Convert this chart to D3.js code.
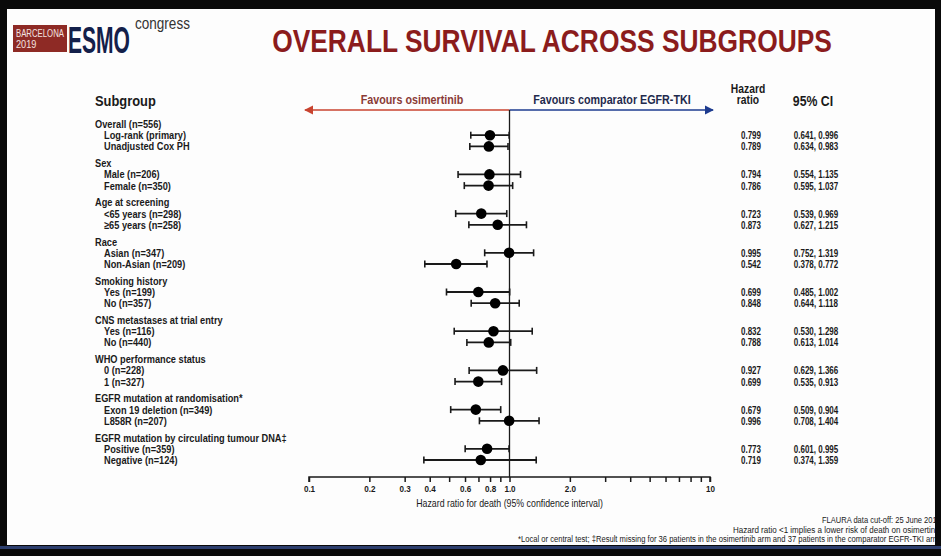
<!DOCTYPE html>
<html>
<head>
<meta charset="utf-8">
<script src="https://cdn.jsdelivr.net/npm/d3@7"></script>
<style>
  body { margin: 0; background: #000; }
  svg text { font-family: "Liberation Sans", Arial, sans-serif; }
</style>
</head>
<body>
<div id="chart"></div>
<script>
// subgroup headers and rows
const groups = ["Overall (n=556)", "Sex", "Age at screening", "Race", "Smoking history",
  "CNS metastases at trial entry", "WHO performance status", "EGFR mutation at randomisation*",
  "EGFR mutation by circulating tumour DNA\u2021"];
const rowLabels = [
  ["Log-rank (primary)", "Unadjusted Cox PH"],
  ["Male (n=206)", "Female (n=350)"],
  ["<65 years (n=298)", "\u226565 years (n=258)"],
  ["Asian (n=347)", "Non-Asian (n=209)"],
  ["Yes (n=199)", "No (n=357)"],
  ["Yes (n=116)", "No (n=440)"],
  ["0 (n=228)", "1 (n=327)"],
  ["Exon 19 deletion (n=349)", "L858R (n=207)"],
  ["Positive (n=359)", "Negative (n=124)"]
];
const hr = [[0.799, 0.789], [0.794, 0.786], [0.723, 0.873], [0.995, 0.542], [0.699, 0.848],
  [0.832, 0.788], [0.927, 0.699], [0.679, 0.996], [0.773, 0.719]];
const ciLow = [[0.641, 0.634], [0.554, 0.595], [0.539, 0.627], [0.752, 0.378], [0.485, 0.644],
  [0.530, 0.613], [0.629, 0.535], [0.509, 0.708], [0.601, 0.374]];
const ciHigh = [[0.996, 0.983], [1.135, 1.037], [0.969, 1.215], [1.319, 0.772], [1.002, 1.118],
  [1.298, 1.014], [1.366, 0.913], [0.904, 1.404], [0.995, 1.359]];
const tickVals = [0.1, 0.2, 0.3, 0.4, 0.5, 0.6, 0.7, 0.8, 0.9, 1, 2, 3, 4, 5, 6, 7, 8, 9, 10];
const tickLabels = {0.1: "0.1", 0.2: "0.2", 0.3: "0.3", 0.4: "0.4", 0.6: "0.6", 0.8: "0.8", 1: "1.0", 2: "2.0", 10: "10"};
const footnotes = ["FLAURA data cut-off: 25 June 2018",
  "Hazard ratio <1 implies a lower risk of death on osimertinib",
  "*Local or central test; \u2021Result missing for 36 patients in the osimertinib arm and 37 patients in the comparator EGFR-TKI arm"];

const W = 941, H = 556;
const ink = "#1a1a1a";
const svg = d3.select("#chart").append("svg").attr("width", W).attr("height", H);

// condensed text helper (no narrow font installed, so squeeze horizontally)
function txt(x, y, s, size, o = {}) {
  const t = svg.append("text")
    .attr("text-anchor", o.anchor || "start")
    .attr("font-size", size)
    .attr("font-weight", o.weight || "bold")
    .attr("fill", o.fill || ink)
    .text(s);
  let sx = o.sx || 0.82;
  if (o.width) sx = o.width / t.node().getComputedTextLength();
  t.attr("transform", `translate(${x},${y}) scale(${sx},1)`);
  return t;
}

// slide background
svg.append("rect").attr("x", 0).attr("y", 0).attr("width", W).attr("height", H).attr("fill", "#0a0a0a");
svg.append("rect").attr("x", 7).attr("y", 9).attr("width", 928).attr("height", 536).attr("fill", "#fdfdfd");

// logo
svg.append("rect").attr("x", 13).attr("y", 25).attr("width", 54).attr("height", 27).attr("fill", "#8e2a25");
txt(16, 37, "BARCELONA", 10.5, {weight: "normal", fill: "#f3e3e0", width: 48});
txt(16, 48, "2019", 11.5, {weight: "normal", fill: "#f3e3e0", sx: 0.8});
txt(68, 53, "ESMO", 37, {fill: "#13204a", width: 62});
txt(135, 29, "congress", 16, {weight: "normal", fill: "#333", width: 55});

// title
txt(552, 52, "OVERALL SURVIVAL ACROSS SUBGROUPS", 32, {anchor: "middle", fill: "#8b1c1c", width: 560});

const x = d3.scaleLog().domain([0.1, 10]).range([309, 710]);
// vertical positions in line units: 3.5 units per group
const y = d3.scaleLinear().domain([0, 1]).range([124, 135.2]);
const rowY = (g, r) => y(g * 3.5 + 1 + r);

// column headers
txt(95, 106, "Subgroup", 15, {sx: 0.86});
txt(748, 93, "Hazard", 12, {anchor: "middle", sx: 0.86});
txt(748, 104, "ratio", 12, {anchor: "middle", sx: 0.86});
txt(813, 106, "95% CI", 15, {anchor: "middle", sx: 0.82});

// favours arrow
const defs = svg.append("defs");
[["arrL", "#c8432f"], ["arrR", "#1d3b8f"]].forEach(([id, c]) => {
  defs.append("marker").attr("id", id).attr("viewBox", "0 0 10 10").attr("refX", 9).attr("refY", 5)
    .attr("markerWidth", 7).attr("markerHeight", 7).attr("orient", "auto-start-reverse")
    .append("path").attr("d", "M0,0 L10,5 L0,10 z").attr("fill", c);
});
const arrowY = 110;
svg.append("line").attr("x1", x(1)).attr("x2", 305).attr("y1", arrowY).attr("y2", arrowY)
  .attr("stroke", "#c8432f").attr("stroke-width", 1.3).attr("marker-end", "url(#arrL)");
svg.append("line").attr("x1", x(1)).attr("x2", 713).attr("y1", arrowY).attr("y2", arrowY)
  .attr("stroke", "#1d3b8f").attr("stroke-width", 1.3).attr("marker-end", "url(#arrR)");
txt(412, 104, "Favours osimertinib", 12.5, {anchor: "middle", fill: "#8a3b36", sx: 0.86});
txt(612, 104, "Favours comparator EGFR-TKI", 12.5, {anchor: "middle", fill: "#1f2a4d", sx: 0.86});

// reference line at HR = 1
svg.append("line").attr("x1", x(1)).attr("x2", x(1)).attr("y1", arrowY).attr("y2", 477)
  .attr("stroke", ink).attr("stroke-width", 1.3);

// labels, points, CIs
const f3 = d3.format(".3f");
groups.forEach((g, gi) => {
  txt(95, y(gi * 3.5) + 4, g, 11, {sx: 0.84});
  rowLabels[gi].forEach((lab, ri) => {
    const yy = rowY(gi, ri);
    txt(104, yy + 4, lab, 11, {sx: 0.84});
    const lo = ciLow[gi][ri], hi = ciHigh[gi][ri], v = hr[gi][ri];
    svg.append("line").attr("x1", x(lo)).attr("x2", x(hi)).attr("y1", yy).attr("y2", yy)
      .attr("stroke", ink).attr("stroke-width", 1.8);
    [lo, hi].forEach(c => svg.append("line").attr("x1", x(c)).attr("x2", x(c)).attr("y1", yy - 3.5).attr("y2", yy + 3.5)
      .attr("stroke", ink).attr("stroke-width", 1.6));
    svg.append("circle").attr("cx", x(v)).attr("cy", yy).attr("r", 5.3).attr("fill", "#000");
    txt(751, yy + 4, f3(v), 10, {anchor: "middle", sx: 0.8});
    txt(816, yy + 4, f3(lo) + ", " + f3(hi), 10, {anchor: "middle", sx: 0.8});
  });
});

// x axis
const axis = svg.append("g").attr("transform", "translate(0,477)")
  .call(d3.axisBottom(x).tickValues(tickVals).tickSize(5).tickPadding(3)
    .tickFormat(d => tickLabels[d] || ""));
axis.select(".domain").attr("stroke", ink).attr("stroke-width", 1.5).attr("d", `M${x(0.1)},5V0H${x(10)}V5`);
axis.selectAll(".tick line").attr("stroke", ink).attr("stroke-width", 1.5);
// squeeze labels around their tick (text sits at x = 0 inside each tick group)
axis.selectAll(".tick text").attr("font-size", 9.5).attr("font-weight", "bold").attr("fill", ink)
  .attr("font-family", "'Liberation Sans', Arial, sans-serif")
  .attr("transform", "scale(0.85,1)");
txt(x(1), 507, "Hazard ratio for death (95% confidence interval)", 10, {anchor: "middle", weight: "normal", sx: 0.88});

// footnotes, right edge cut by the photo border
const footX = [822, 733, 518], footLen = [119, 209, 422];
footnotes.forEach((f, i) => {
  txt(footX[i], 523 + i * 9.5, f, 9, {weight: "normal", width: footLen[i]});
});

// photo border on top (right and bottom black)
svg.append("rect").attr("x", 935).attr("y", 0).attr("width", 6).attr("height", H).attr("fill", "#0a0a0a");
svg.append("rect").attr("x", 0).attr("y", 545).attr("width", W).attr("height", 11).attr("fill", "#0a0a0a");
svg.append("rect").attr("x", 0).attr("y", 546).attr("width", W).attr("height", 3).attr("fill", "#2d3f6e");
</script>
</body>
</html>
